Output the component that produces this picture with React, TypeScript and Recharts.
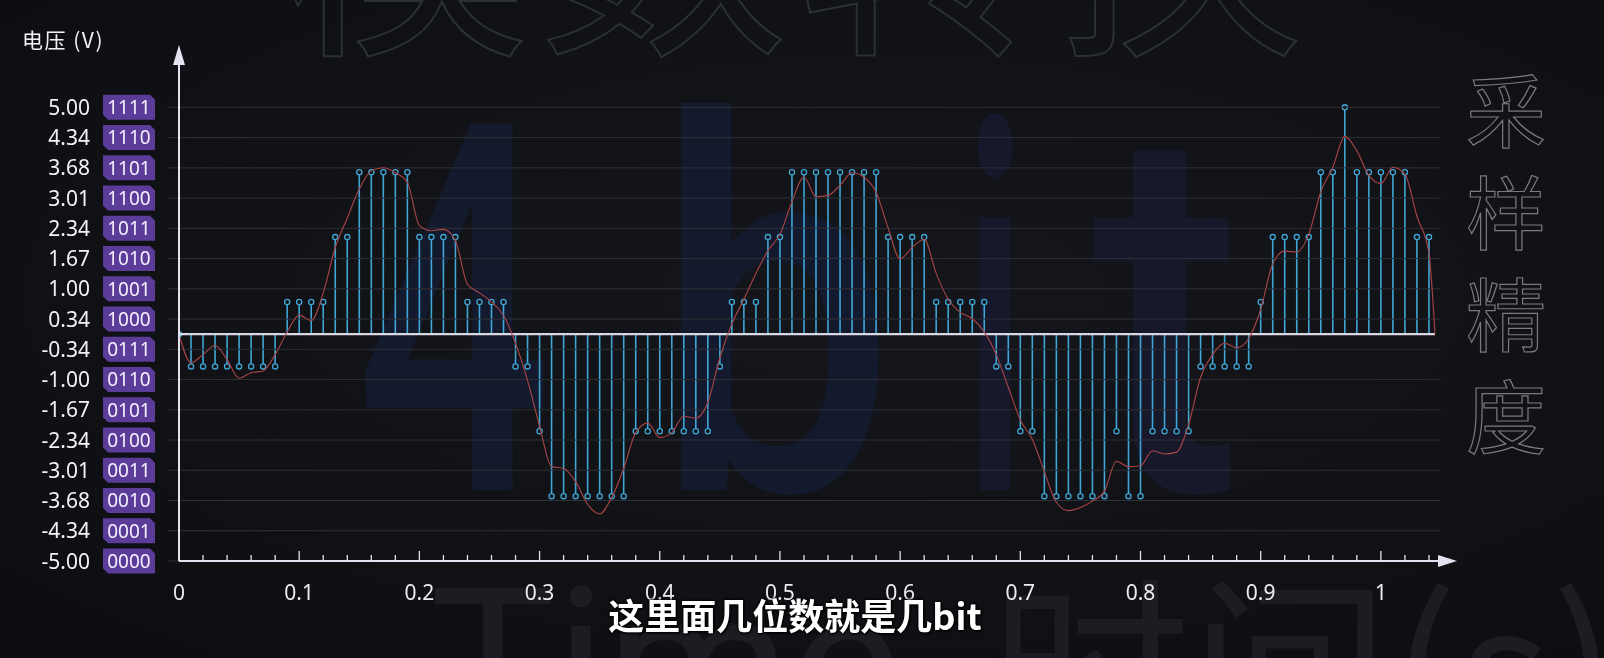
import React from 'react';
import {
  Bar,
  ComposedChart,
  Line,
  ReferenceDot,
  ReferenceLine,
  XAxis,
  YAxis,
} from 'recharts';

// quantised samples, one every 0.01 s (3-bit levels)
const sampleValues = [
  0,
  -0.71, -0.71, -0.71, -0.71, -0.71, -0.71, -0.71, -0.71,
  0.71, 0.71, 0.71, 0.71,
  2.14, 2.14,
  3.57, 3.57, 3.57, 3.57, 3.57,
  2.14, 2.14, 2.14, 2.14,
  0.71, 0.71, 0.71, 0.71,
  -0.71, -0.71,
  -2.14,
  -3.57, -3.57, -3.57, -3.57, -3.57, -3.57, -3.57,
  -2.14, -2.14, -2.14, -2.14, -2.14, -2.14, -2.14,
  -0.71,
  0.71, 0.71, 0.71,
  2.14, 2.14,
  3.57, 3.57, 3.57, 3.57, 3.57, 3.57, 3.57, 3.57,
  2.14, 2.14, 2.14, 2.14,
  0.71, 0.71, 0.71, 0.71, 0.71,
  -0.71, -0.71,
  -2.14, -2.14,
  -3.57, -3.57, -3.57, -3.57, -3.57, -3.57,
  -2.14,
  -3.57, -3.57,
  -2.14, -2.14, -2.14, -2.14,
  -0.71, -0.71, -0.71, -0.71, -0.71,
  0.71,
  2.14, 2.14, 2.14, 2.14,
  3.57, 3.57,
  5.0,
  3.57, 3.57, 3.57, 3.57, 3.57,
  2.14, 2.14,
];

// analog signal read at the same instants
const signalValues = [
  0, -0.63, -0.45, -0.25, -0.56, -0.97, -0.85, -0.81, -0.45, 0.05,
  0.42, 0.3, 0.91, 1.91, 2.56, 3.2, 3.6, 3.67, 3.56, 3.35,
  2.4, 2.28, 2.31, 2.06, 1.1, 0.91, 0.71, 0.41, -0.2, -1.02,
  -2.03, -2.92, -2.96, -3.25, -3.75, -3.96, -3.6, -2.96, -2.17, -1.96,
  -2.28, -2.17, -1.81, -1.85, -1.5, -0.52, 0.23, 0.77, 1.34, 1.84,
  2.2, 2.92, 3.46, 3.03, 3.06, 3.28, 3.56, 3.46, 3.13, 2.34,
  1.66, 1.91, 2.09, 1.34, 0.77, 0.48, 0.34, 0.05, -0.45, -1.17,
  -1.89, -2.32, -3.03, -3.71, -3.89, -3.82, -3.68, -3.46, -2.8, -2.92,
  -2.9, -2.57, -2.64, -2.6, -1.99, -0.95, -0.45, -0.2, -0.3, -0.1,
  0.55, 1.55, 1.83, 1.81, 2.2, 3.14, 3.68, 4.36, 4.04, 3.5,
  3.32, 3.68, 3.53, 2.6, 1.78,
];

// where the analog trace stops
const tailTimes = [1.045];
const tailSignal = [0];

const yTickLabels = [
  '-5.00', '-4.34', '-3.68', '-3.01', '-2.34', '-1.67', '-1.00', '-0.34',
  '0.34', '1.00', '1.67', '2.34', '3.01', '3.68', '4.34', '5.00',
];
const yTickCodes = [
  '0000', '0001', '0010', '0011', '0100', '0101', '0110', '0111',
  '1000', '1001', '1010', '1011', '1100', '1101', '1110', '1111',
];
const xTickLabels = ['0', '0.1', '0.2', '0.3', '0.4', '0.5', '0.6', '0.7', '0.8', '0.9', '1'];

const yTicks = yTickLabels.map((_, i) => -5 + (i * 10) / 15);
const xTicks = Array.from({ length: 53 }, (_, i) => Math.round(i * 2) / 100);

const data = [
  ...sampleValues.map((s, i) => ({ t: i / 100, sample: s, signal: signalValues[i] })),
  ...tailTimes.map((t, i) => ({ t, sample: null, signal: tailSignal[i] })),
];

const STEM = '#3fa6d6';
const AXIS = '#e4e2ee';
const FONT = '"Noto Sans", "Open Sans", sans-serif';
const CJK = '"Noto Sans CJK SC", "Noto Sans", sans-serif';

const Stem = (props: any) => {
  const { x, y, width, height, payload } = props;
  if (payload == null || payload.sample == null || !Number.isFinite(y)) return <g />;
  const cx = x + width / 2;
  const v = payload.sample;
  const a = y;
  const b = y + (height || 0);
  const tip = v >= 0 ? Math.min(a, b) : Math.max(a, b);
  const base = v >= 0 ? Math.max(a, b) : Math.min(a, b);
  return (
    <g>
      {v !== 0 && <line x1={cx} x2={cx} y1={base} y2={tip} stroke={STEM} strokeWidth={1.6} />}
      <circle cx={cx} cy={tip} r={2.6} fill={v === 0 ? STEM : '#111216'} stroke={STEM} strokeWidth={1.3} />
    </g>
  );
};

const YTick = (props: any) => {
  const { x, y, payload } = props;
  const i = yTicks.findIndex((v) => Math.abs(v - payload.value) < 1e-6);
  if (i < 0) return <g />;
  const l = x - 76;
  const r = x - 24;
  const c = 5;
  const top = y - 12.5;
  const bot = y + 12.5;
  const box = `M${l},${top} L${r - c},${top} L${r},${top + c} L${r},${bot} L${l + c},${bot} L${l},${bot - c} Z`;
  return (
    <g>
      <text x={x - 89} y={y} dy="0.36em" textAnchor="end" fill="#f2f2f6" fontSize={21} fontFamily={FONT}>
        {yTickLabels[i]}
      </text>
      <path d={box} fill="#5b3d99" />
      <text x={(l + r) / 2} y={y} dy="0.36em" textAnchor="middle" fill="#f4f0ff" fontSize={19} fontFamily={FONT}>
        {yTickCodes[i]}
      </text>
    </g>
  );
};

const XTick = (props: any) => {
  const { x, y, payload } = props;
  const v = payload.value;
  const k = Math.round(v * 10);
  const major = Math.abs(v * 10 - k) < 1e-6;
  return (
    <g>
      <line x1={x} x2={x} y1={y} y2={y - (major ? 10 : 6)} stroke={AXIS} strokeWidth={1.3} />
      {major && (
        <text x={x} y={y + 39} textAnchor="middle" fill="#ecebf2" fontSize={21} fontFamily={FONT}>
          {xTickLabels[k]}
        </text>
      )}
    </g>
  );
};

const ArrowUp = (props: any) => {
  const { cx, cy } = props;
  return <path d={`M${cx},${cy - 17} L${cx + 6},${cy + 3} L${cx - 6},${cy + 3} Z`} fill={AXIS} />;
};

const ArrowRight = (props: any) => {
  const { cx, cy } = props;
  return <path d={`M${cx + 4},${cy} L${cx - 15},${cy - 6} L${cx - 15},${cy + 6} Z`} fill={AXIS} />;
};

const outline = (color: string, w: number): React.CSSProperties => ({
  color: 'transparent',
  WebkitTextStroke: `${w}px ${color}`,
});

// big faded "4bit" letters behind the plot
const Watermark: React.FC = () => (
  <svg width={1604} height={658} style={{ position: 'absolute', left: 0, top: 0 }}>
    <g fontFamily="Roboto" fontWeight={500}>
      <text x={356} y={490} fontSize={516} textLength={196} lengthAdjust="spacingAndGlyphs" fill="#141a2d">
        4
      </text>
      <text x={655} y={490} fontSize={516} textLength={240} lengthAdjust="spacingAndGlyphs" fill="#141a2d">
        b
      </text>
      <text x={962} y={490} fontSize={516} textLength={66} lengthAdjust="spacingAndGlyphs" fill="#16182b">
        i
      </text>
      <text x={1092} y={490} fontSize={516} textLength={150} lengthAdjust="spacingAndGlyphs" fill="#17182a">
        t
      </text>
    </g>
  </svg>
);

const App: React.FC = () => {
  return (
    <div
      style={{
        position: 'fixed',
        left: 0,
        top: 0,
        width: 1604,
        height: 658,
        overflow: 'hidden',
        background: 'radial-gradient(ellipse at 55% 45%, #15161b 0%, #111216 55%, #0c0d10 100%)',
        fontFamily: FONT,
      }}
    >
      <div
        style={{
          position: 'absolute',
          left: 280,
          top: -198,
          fontSize: 250,
          lineHeight: 1,
          fontFamily: CJK,
          letterSpacing: 8,
          whiteSpace: 'nowrap',
          ...outline('#2d2f38', 2),
        }}
      >
        模数转换
      </div>
      <Watermark />
      <div
        style={{
          position: 'absolute',
          left: 430,
          top: 560,
          fontSize: 210,
          lineHeight: 1,
          fontFamily: 'Roboto',
          color: '#1c1d22',
          whiteSpace: 'nowrap',
        }}
      >
        Time
      </div>
      <div
        style={{
          position: 'absolute',
          left: 990,
          top: 560,
          fontSize: 200,
          lineHeight: 1,
          fontFamily: CJK,
          color: '#1c1d22',
          whiteSpace: 'nowrap',
        }}
      >
        时间(s)
      </div>
      {['采', '样', '精', '度'].map((ch, i) => (
        <div
          key={ch}
          style={{
            position: 'absolute',
            left: 1466,
            top: 66 + i * 102,
            fontSize: 80,
            lineHeight: 1,
            fontFamily: CJK,
            ...outline('#7a7a80', 1.2),
          }}
        >
          {ch}
        </div>
      ))}

      <div
        style={{
          position: 'absolute',
          left: 22,
          top: 24,
          fontSize: 21,
          letterSpacing: 1.5,
          color: '#f2f2f6',
          fontFamily: CJK,
          whiteSpace: 'nowrap',
        }}
      >
        电压 (V)
      </div>

      <div style={{ position: 'absolute', left: 0, top: 0 }}>
        <ComposedChart
          width={1604}
          height={658}
          data={data}
          margin={{ top: 62, right: 151, bottom: 67, left: 0 }}
        >
          {yTicks.map((v) => (
            <ReferenceLine
              key={v}
              segment={[
                { x: -0.009, y: v },
                { x: 1.05, y: v },
              ]}
              stroke="#2f3037"
              strokeWidth={1}
              ifOverflow="visible"
            />
          ))}
          <XAxis
            type="number"
            dataKey="t"
            domain={[0, 1.06]}
            allowDataOverflow
            ticks={xTicks}
            interval={0}
            height={30}
            tickSize={0}
            tickMargin={0}
            tickLine={false}
            axisLine={{ stroke: AXIS, strokeWidth: 2 }}
            tick={<XTick />}
          />
          <YAxis
            type="number"
            domain={[-5, 6]}
            allowDataOverflow
            ticks={yTicks}
            interval={0}
            width={179}
            tickSize={0}
            tickMargin={0}
            tickLine={false}
            axisLine={{ stroke: AXIS, strokeWidth: 2 }}
            tick={<YTick />}
          />
          <ReferenceLine
            segment={[
              { x: 0, y: 0 },
              { x: 1.045, y: 0 },
            ]}
            stroke="#d9d8e2"
            strokeWidth={2.2}
            ifOverflow="visible"
          />
          <Bar dataKey="sample" barSize={2} shape={<Stem />} isAnimationActive={false} />
          <Line
            type="monotone"
            dataKey="signal"
            stroke="#a94547"
            strokeWidth={1.1}
            dot={false}
            activeDot={false}
            isAnimationActive={false}
          />
          <ReferenceDot x={0} y={6} r={0} shape={<ArrowUp />} ifOverflow="visible" />
          <ReferenceDot x={1.06} y={-5} r={0} shape={<ArrowRight />} ifOverflow="visible" />
        </ComposedChart>
      </div>

      <div
        style={{
          position: 'absolute',
          left: 0,
          width: 1590,
          top: 588,
          textAlign: 'center',
          fontSize: 36,
          fontWeight: 700,
          color: '#ffffff',
          fontFamily: CJK,
          textShadow: '0 0 3px #000, 0 0 3px #000, 1px 1px 2px #000',
          whiteSpace: 'nowrap',
        }}
      >
        这里面几位数就是几bit
      </div>
    </div>
  );
};

export default App;
